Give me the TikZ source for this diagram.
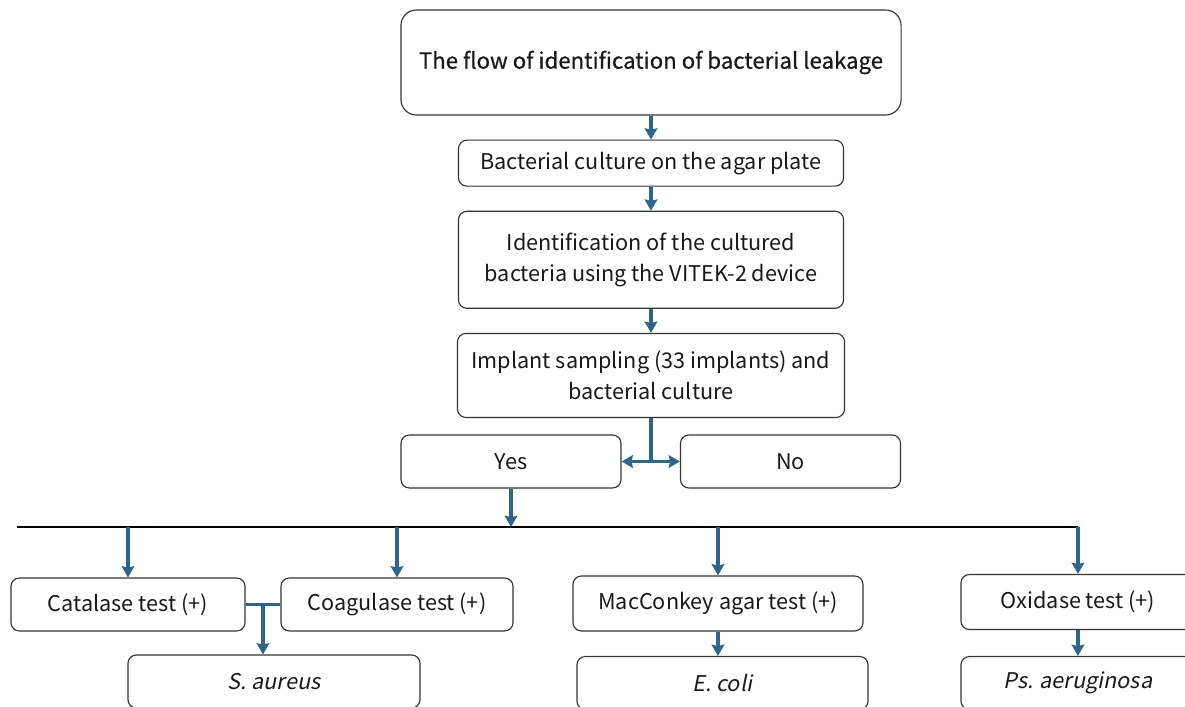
\documentclass[tikz,border=0pt]{standalone}
\usepackage{fontspec}
\setmainfont{Noto Sans CJK KR}[AutoFakeSlant=0.2]
\newfontfamily\titlefont[FakeBold=0.5]{Noto Sans CJK KR}
\usetikzlibrary{positioning,arrows.meta}
\definecolor{flowblue}{HTML}{2E6589}
\tikzset{
  box/.style={draw=black!80, rounded corners=6pt, line width=0.8pt, align=center, inner sep=2pt, text=black!90, font=\fontsize{15.4}{22.5}\selectfont},
  flow/.style={->, draw=flowblue, line width=2.2pt},
}

\begin{document}
\begin{tikzpicture}[>={Stealth[length=8pt,width=9pt,inset=1pt]}, x=0.025cm, y=-0.025cm, node distance=0.6cm]
	\useasboundingbox (0,0) rectangle (1185,707);
	\clip (0,0) rectangle (1185,707);
	% main chain
	\node[box, minimum width=12.5cm, minimum height=2.625cm, rounded corners=11pt, font=\fontsize{15.8}{22.5}\titlefont] (title) at (651,62.5) {The flow of identification of bacterial leakage};
	\node[box, minimum width=9.625cm, minimum height=1.15cm] (culture) [below=of title] {Bacterial culture on the agar plate};
	\node[box, minimum width=9.625cm, minimum height=2.425cm] (ident) [below=of culture] {Identification of the cultured\\bacteria using the VITEK-2 device};
	\node[box, minimum width=9.675cm, minimum height=2.1cm] (implant) [below=of ident] {Implant sampling (33 implants) and\\bacterial culture};
	\node[box, minimum width=5.5cm, minimum height=1.325cm] (yes) at (511,461.5) {Yes};
	\node[box, minimum width=5.5cm, minimum height=1.325cm] (no) at (790.5,461.5) {No};
	% tests
	\node[box, minimum width=5.85cm, minimum height=1.325cm] (cat) at (128,604.5) {Catalase test (+)};
	\node[box, minimum width=5.8cm, minimum height=1.325cm] (coag) at (397,604.5) {Coagulase test (+)};
	\node[box, minimum width=7.25cm, minimum height=1.375cm] (mac) at (718,603.5) {MacConkey agar test (+)};
	\node[box, minimum width=5.85cm, minimum height=1.375cm] (oxi) at (1078,602) {Oxidase test (+)};
	% species
	\node[box, minimum width=7.3cm, minimum height=1.325cm] (saur) at (274,681.5) {\textit{S. aureus}};
	\node[box, minimum width=7.275cm, minimum height=1.325cm] (ecoli) at (722.5,683) {\textit{E. coli}};
	\node[box, minimum width=5.85cm, minimum height=1.325cm] (ps) at (1078,683) {\textit{Ps. aeruginosa}};
	\coordinate (barL) at (17,527);
	\coordinate (barR) at (1078,527);
	\coordinate (join) at (263,604.5);
	% connectors
	\draw[flow] (title) -- (culture);
	\draw[flow] (culture) -- (ident);
	\draw[flow] (ident) -- (implant);
	\draw[flow, -] (implant) -- (implant.south |- yes.east);
	\draw[flow, <->] (yes) -- (no);
	\draw[line width=1.5pt] (barL) -- (barR);
	\draw[flow] (yes) -- (yes.south |- barL);
	\foreach \t in {cat,coag,mac,oxi}
		\draw[flow] (\t.north |- barL) -- (\t);
	\draw[flow, -] (cat) -- (coag);
	\draw[flow] (join) -- (join |- saur.north);
	\draw[flow] (mac.south) -- (mac.south |- ecoli.north);
	\draw[flow] (oxi) -- (ps);
\end{tikzpicture}
\end{document}
